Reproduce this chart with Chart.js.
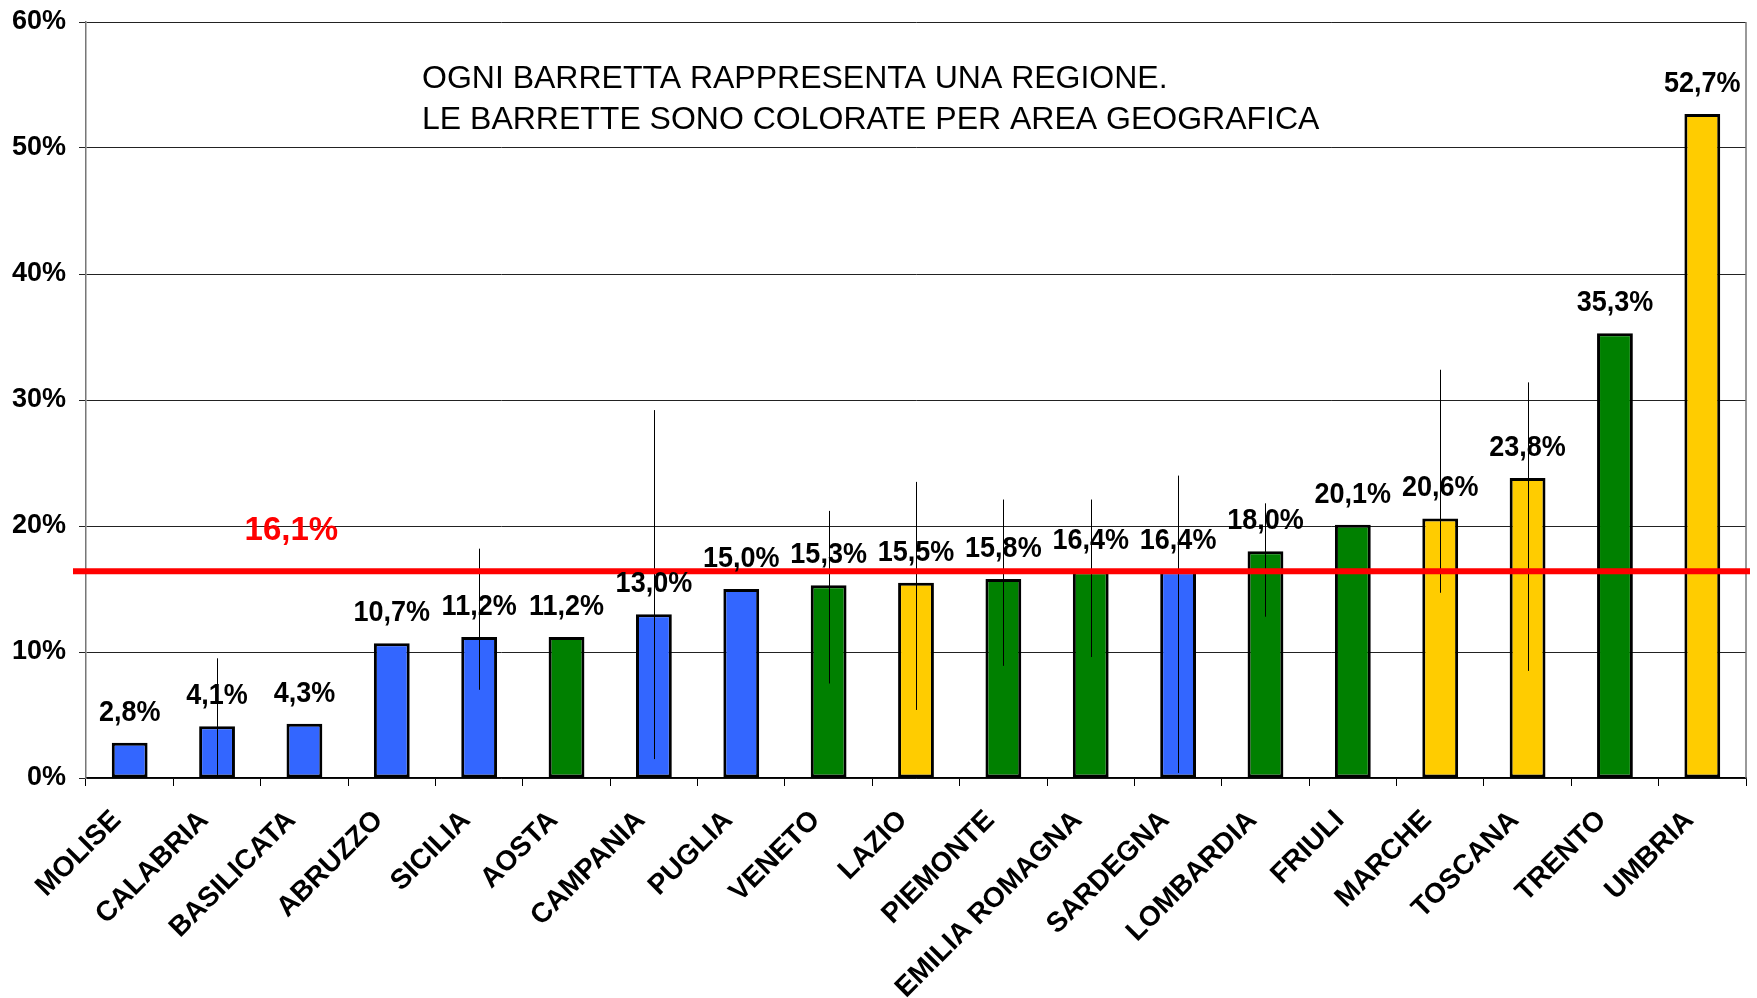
<!DOCTYPE html>
<html>
<head>
<meta charset="utf-8">
<script src="https://cdn.jsdelivr.net/npm/chart.js@4"></script>
<style>
  html, body { margin: 0; padding: 0; background: #fff; }
  #wrap { width: 1757px; height: 998px; position: relative; }
</style>
</head>
<body>
<div id="wrap"><canvas id="chart"></canvas></div>
<script>
// Regions, sorted by value
const regions = ['MOLISE', 'CALABRIA', 'BASILICATA', 'ABRUZZO', 'SICILIA', 'AOSTA', 'CAMPANIA',
    'PUGLIA', 'VENETO', 'LAZIO', 'PIEMONTE', 'EMILIA ROMAGNA', 'SARDEGNA', 'LOMBARDIA',
    'FRIULI', 'MARCHE', 'TOSCANA', 'TRENTO', 'UMBRIA'];
const values = [2.8, 4.1, 4.3, 10.7, 11.2, 11.2, 13.0, 15.0, 15.3, 15.5, 15.8, 16.4, 16.4,
    18.0, 20.1, 20.6, 23.8, 35.3, 52.7];
const areas = ['sud', 'sud', 'sud', 'sud', 'sud', 'nord', 'sud', 'sud', 'nord', 'centro',
    'nord', 'nord', 'sud', 'nord', 'nord', 'centro', 'centro', 'nord', 'centro'];
// Error ranges (null = no error bar)
const errLow = [null, 0, null, null, 7.0, null, 1.5, null, 7.5, 5.4, 8.9, 9.6, 0.4, 12.8,
    null, 14.7, 8.5, null, null];
const errHigh = [null, 9.5, null, null, 18.2, null, 29.2, null, 21.2, 23.5, 22.1, 22.1, 24.0,
    21.8, null, 32.4, 31.4, null, null];
const yTicks = [0, 10, 20, 30, 40, 50, 60];
const averageLine = 16.4;
const averageText = '16,1%';
const noteLines = ['OGNI BARRETTA RAPPRESENTA UNA REGIONE.',
    'LE BARRETTE SONO COLORATE PER AREA GEOGRAFICA'];

const areaColors = { nord: '#008000', centro: '#FFCC00', sud: '#3366FF' };
const FONT = "'Liberation Sans', Arial, sans-serif";

function fmt(v) {
    return v.toFixed(1).replace('.', ',') + '%';
}

// Draws error bars, average line, value labels and the note
const overlayPlugin = {
    id: 'overlay',
    afterDatasetsDraw(chart) {
        const ctx = chart.ctx;
        const x = chart.scales.x;
        const y = chart.scales.y;
        const area = chart.chartArea;
        ctx.save();

        // right frame line
        ctx.strokeStyle = '#777';
        ctx.lineWidth = 1.5;
        ctx.beginPath();
        ctx.moveTo(area.right, area.top);
        ctx.lineTo(area.right, area.bottom);
        ctx.stroke();

        // error bars
        ctx.strokeStyle = '#000';
        ctx.lineWidth = 1;
        for (let i = 0; i < values.length; i++) {
            if (errLow[i] === null) continue;
            const px = Math.round(x.getPixelForValue(i)) + 0.5;
            ctx.beginPath();
            ctx.moveTo(px, y.getPixelForValue(errHigh[i]));
            ctx.lineTo(px, y.getPixelForValue(errLow[i]));
            ctx.stroke();
        }

        // average line
        const ay = y.getPixelForValue(averageLine);
        ctx.strokeStyle = '#FF0000';
        ctx.lineWidth = 6;
        ctx.beginPath();
        ctx.moveTo(area.left - 13, ay);
        ctx.lineTo(area.right + 4, ay);
        ctx.stroke();

        // value labels (slightly stretched vertically like the original)
        ctx.fillStyle = '#000';
        ctx.font = 'bold 27px ' + FONT;
        ctx.textAlign = 'center';
        ctx.textBaseline = 'alphabetic';
        for (let i = 0; i < values.length; i++) {
            const px = x.getPixelForValue(i);
            const py = y.getPixelForValue(values[i]) - 22;
            ctx.save();
            ctx.translate(px, py);
            ctx.scale(1, 1.1);
            ctx.fillText(fmt(values[i]), 0, 0);
            ctx.restore();
        }

        // average label
        ctx.fillStyle = '#FF0000';
        ctx.font = 'bold 33px ' + FONT;
        ctx.fillText(averageText, x.getPixelForValue(1.85), y.getPixelForValue(18.9));

        // note
        ctx.fillStyle = '#000';
        ctx.font = '32px ' + FONT;
        ctx.textAlign = 'left';
        ctx.fillText(noteLines[0], area.left + 336, 88);
        ctx.fillText(noteLines[1], area.left + 336, 129);

        ctx.restore();
    }
};

const ctx = document.getElementById('chart').getContext('2d');
new Chart(ctx, {
    type: 'bar',
    data: {
        labels: regions,
        datasets: [{
            data: values,
            backgroundColor: areas.map(a => areaColors[a]),
            borderColor: '#000',
            borderWidth: 3,
            borderSkipped: false,
            barPercentage: 0.41,
            categoryPercentage: 1.0
        }]
    },
    options: {
        responsive: true,
        maintainAspectRatio: false,
        animation: false,
        layout: { padding: { top: 22, right: 11, left: 0, bottom: 0 } },
        plugins: {
            legend: { display: false },
            tooltip: { enabled: false }
        },
        scales: {
            x: {
                afterFit(scale) { scale.height = 220; },
                grid: {
                    offset: true,
                    drawOnChartArea: false,
                    drawTicks: true,
                    tickLength: 8,
                    color: '#000'
                },
                border: { color: '#000', width: 1.5 },
                ticks: {
                    color: '#000',
                    font: { family: FONT, size: 28, weight: 'bold' },
                    minRotation: 45,
                    maxRotation: 45,
                    autoSkip: false,
                    padding: 18,
                    labelOffset: -13
                }
            },
            y: {
                min: 0,
                max: 60,
                afterFit(scale) {
                    scale.width = 86;
                    scale.paddingTop = 0;
                    scale.paddingBottom = 0;
                },
                afterBuildTicks(scale) { scale.ticks = yTicks.map(v => ({ value: v })); },
                grid: {
                    color: '#222',
                    lineWidth: 1,
                    tickLength: 7
                },
                border: { color: '#777', width: 1.5 },
                ticks: {
                    color: '#000',
                    padding: 13,
                    font: { family: FONT, size: 27, weight: 'bold' },
                    callback: v => v + '%'
                }
            }
        }
    },
    plugins: [overlayPlugin]
});
</script>
</body>
</html>
